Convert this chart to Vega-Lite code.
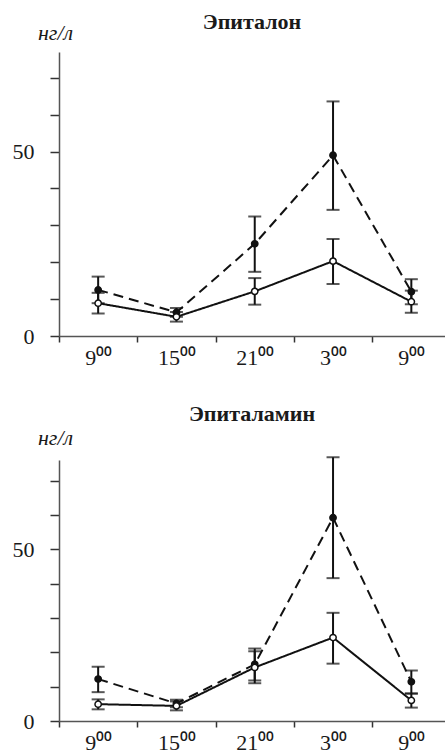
{
  "$schema": "https://vega.github.io/schema/vega-lite/v6.json",
  "padding": {"left": 12, "top": 11, "right": 0, "bottom": 0},
  "spacing": 35,
  "config": {
    "font": "Liberation Serif, Times New Roman, serif",
    "view": {"stroke": null},
    "axis": {
      "grid": false,
      "domainColor": "#555",
      "domainWidth": 1.5,
      "tickColor": "#333",
      "tickWidth": 1.5,
      "labelFont": "Liberation Serif, Times New Roman, serif",
      "labelFontSize": 22,
      "labelColor": "#1a1a1a",
      "labelOverlap": false,
      "labelFlush": false,
      "labelBound": false
    },
    "axisY": {
      "values": [0, 10, 20, 30, 40, 50, 60, 70],
      "labelExpr": "datum.value === 0 || datum.value === 50 ? datum.label : ''",
      "labelOverlap": false,
      "tickSize": 9,
      "labelPadding": 16,
      "titleAngle": 0,
      "titleFont": "Liberation Serif, Times New Roman, serif",
      "titleFontStyle": "italic",
      "titleFontWeight": "normal",
      "titleFontSize": 22,
      "titleColor": "#1a1a1a",
      "titleAlign": "center",
      "titleBaseline": "middle",
      "titleX": -4
    },
    "title": {"font": "Liberation Serif, Times New Roman, serif", "fontSize": 22, "fontWeight": "bold", "color": "#1a1a1a", "frame": "group", "anchor": "middle"}
  },
  "datasets": {
    "hormone": [
      {"panel": "Эпиталон", "g": "filled", "t": 0, "v": 12.5, "lo": 8.9, "hi": 16.1},
      {"panel": "Эпиталон", "g": "filled", "t": 1, "v": 6.4, "lo": 5.2, "hi": 7.6},
      {"panel": "Эпиталон", "g": "filled", "t": 2, "v": 25.0, "lo": 17.4, "hi": 32.4},
      {"panel": "Эпиталон", "g": "filled", "t": 3, "v": 49.0, "lo": 34.2, "hi": 63.6},
      {"panel": "Эпиталон", "g": "filled", "t": 4, "v": 12.0, "lo": 8.6, "hi": 15.4},
      {"panel": "Эпиталон", "g": "open", "t": 0, "v": 8.9, "lo": 6.1, "hi": 11.7},
      {"panel": "Эпиталон", "g": "open", "t": 1, "v": 5.2, "lo": 3.9, "hi": 6.5},
      {"panel": "Эпиталон", "g": "open", "t": 2, "v": 12.1, "lo": 8.5, "hi": 15.7},
      {"panel": "Эпиталон", "g": "open", "t": 3, "v": 20.3, "lo": 14.1, "hi": 26.3},
      {"panel": "Эпиталон", "g": "open", "t": 4, "v": 9.3, "lo": 6.3, "hi": 12.3},
      {"panel": "Эпиталамин", "g": "filled", "t": 0, "v": 12.2, "lo": 8.4, "hi": 15.8},
      {"panel": "Эпиталамин", "g": "filled", "t": 1, "v": 5.1, "lo": 4.0, "hi": 6.2},
      {"panel": "Эпиталамин", "g": "filled", "t": 2, "v": 16.5, "lo": 11.8, "hi": 21.1},
      {"panel": "Эпиталамин", "g": "filled", "t": 3, "v": 59.2, "lo": 41.6, "hi": 76.8},
      {"panel": "Эпиталамин", "g": "filled", "t": 4, "v": 11.4, "lo": 8.0, "hi": 14.7},
      {"panel": "Эпиталамин", "g": "open", "t": 0, "v": 4.9, "lo": 3.4, "hi": 6.3},
      {"panel": "Эпиталамин", "g": "open", "t": 1, "v": 4.4, "lo": 3.1, "hi": 5.7},
      {"panel": "Эпиталамин", "g": "open", "t": 2, "v": 15.6, "lo": 11.0, "hi": 20.3},
      {"panel": "Эпиталамин", "g": "open", "t": 3, "v": 24.3, "lo": 16.7, "hi": 31.5},
      {"panel": "Эпиталамин", "g": "open", "t": 4, "v": 6.0, "lo": 3.9, "hi": 8.0}
    ]
  },
  "vconcat": [
    {
      "width": 386,
      "height": 284,
      "title": {"text": "Эпиталон", "offset": -13},
      "data": {"name": "hormone"},
      "transform": [{"filter": "datum.panel === 'Эпиталон'"}],
      "encoding": {
        "x": {
          "field": "t",
          "type": "quantitative",
          "scale": {"domain": [-0.5, 4.43], "nice": false, "zero": false},
          "axis": {
            "title": null,
            "values": [-0.5, 0, 0.5, 1, 1.5, 2, 2.5, 3, 3.5, 4],
            "labelExpr": "datum.value % 1 === 0 ? ['9⁰⁰', '15⁰⁰', '21⁰⁰', '3⁰⁰', '9⁰⁰'][datum.value] : ''",
            "tickSize": 6,
            "tickOpacity": {"condition": {"test": "datum.value % 1 !== 0", "value": 1}, "value": 0},
            "labelPadding": 5,
            "labelOverlap": false
          }
        }
      },
      "layer": [
        {
          "mark": {"type": "line", "color": "#111", "strokeWidth": 2},
          "encoding": {
            "y": {"field": "v", "type": "quantitative", "title": "нг/л", "scale": {"domain": [0, 77], "nice": false}, "axis": {"titleY": -20}},
            "strokeDash": {"field": "g", "type": "nominal", "scale": {"domain": ["filled", "open"], "range": [[10, 6], [1, 0]]}, "legend": null}
          }
        },
        {
          "mark": {"type": "errorbar", "ticks": {"size": 13, "color": "#111", "thickness": 2}, "rule": {"color": "#111", "strokeWidth": 2}},
          "encoding": {
            "y": {"field": "lo", "type": "quantitative", "title": "нг/л", "scale": {"domain": [0, 77], "nice": false}, "axis": {"titleY": -20}},
            "y2": {"field": "hi"},
            "detail": {"field": "g"}
          }
        },
        {
          "mark": {"type": "point", "filled": true, "stroke": "#111", "strokeWidth": 1.5, "size": 40, "opacity": 1},
          "encoding": {
            "y": {"field": "v", "type": "quantitative", "title": "нг/л", "scale": {"domain": [0, 77], "nice": false}, "axis": {"titleY": -20}},
            "fill": {"field": "g", "type": "nominal", "scale": {"domain": ["filled", "open"], "range": ["#111", "white"]}, "legend": null}
          }
        }
      ]
    },
    {
      "width": 386,
      "height": 261,
      "title": {"text": "Эпиталамин", "offset": 0},
      "data": {"name": "hormone"},
      "transform": [{"filter": "datum.panel === 'Эпиталамин'"}],
      "encoding": {
        "x": {
          "field": "t",
          "type": "quantitative",
          "scale": {"domain": [-0.5, 4.43], "nice": false, "zero": false},
          "axis": {
            "title": null,
            "values": [-0.5, 0, 0.5, 1, 1.5, 2, 2.5, 3, 3.5, 4],
            "labelExpr": "datum.value % 1 === 0 ? ['9⁰⁰', '15⁰⁰', '21⁰⁰', '3⁰⁰', '9⁰⁰'][datum.value] : ''",
            "tickSize": 6,
            "tickOpacity": {"condition": {"test": "datum.value % 1 !== 0", "value": 1}, "value": 0},
            "labelPadding": 5,
            "labelOverlap": false
          }
        }
      },
      "layer": [
        {
          "mark": {"type": "line", "color": "#111", "strokeWidth": 2},
          "encoding": {
            "y": {"field": "v", "type": "quantitative", "title": "нг/л", "scale": {"domain": [0, 76], "nice": false}, "axis": {"titleY": -23}},
            "strokeDash": {"field": "g", "type": "nominal", "scale": {"domain": ["filled", "open"], "range": [[10, 6], [1, 0]]}, "legend": null}
          }
        },
        {
          "mark": {"type": "errorbar", "ticks": {"size": 13, "color": "#111", "thickness": 2}, "rule": {"color": "#111", "strokeWidth": 2}},
          "encoding": {
            "y": {"field": "lo", "type": "quantitative", "title": "нг/л", "scale": {"domain": [0, 76], "nice": false}, "axis": {"titleY": -23}},
            "y2": {"field": "hi"},
            "detail": {"field": "g"}
          }
        },
        {
          "mark": {"type": "point", "filled": true, "stroke": "#111", "strokeWidth": 1.5, "size": 40, "opacity": 1},
          "encoding": {
            "y": {"field": "v", "type": "quantitative", "title": "нг/л", "scale": {"domain": [0, 76], "nice": false}, "axis": {"titleY": -23}},
            "fill": {"field": "g", "type": "nominal", "scale": {"domain": ["filled", "open"], "range": ["#111", "white"]}, "legend": null}
          }
        }
      ]
    }
  ]
}
